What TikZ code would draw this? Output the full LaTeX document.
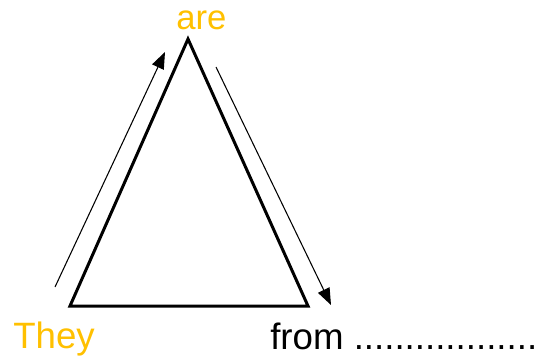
\documentclass[tikz,border=0pt]{standalone}
\usepackage{fontspec}
\setmainfont{Liberation Sans}
\usepackage{xcolor}
\usetikzlibrary{arrows.meta, positioning, calc}
\definecolor{gold}{HTML}{FFC000}
\tikzset{
  word/.style={
    anchor=base west, inner sep=0pt,
    font=\fontsize{#1}{30}\selectfont
  },
  word/.default=27.5,
  edge/.style={
    line width=2.25pt, line join=miter
  },
  arrow/.style={
    -{Triangle[length=12.5pt, width=9.5pt]},
    line width=0.8pt
  }
}
\begin{document}
\begin{tikzpicture}[x=0.75pt, y=-0.75pt]
\useasboundingbox (0,0) rectangle (551,358);

%------------------------------------------------------
% TRIANGLE CORNERS
%------------------------------------------------------

\coordinate (apex) at (188,39);
\coordinate (left) at (70,306);
\coordinate (right) at (308,306);

% arrow ends
\coordinate (upstart) at (55,287);
\coordinate (upend) at (165,52);
\coordinate (downstart) at (216,67);
\coordinate (downend) at (331,305);

%------------------------------------------------------
% WORDS
%------------------------------------------------------

\node[word=26, text=gold] (are) at (176,29) {are};
\node[word, text=gold] (they) at (13,348) {They};
\node[word] (from) at (270,349) {from ..................};

%------------------------------------------------------
% EDGES
%------------------------------------------------------

\draw[edge] (left) -- (apex) -- (right) -- cycle;
\draw[arrow] (upstart) -- (upend);
\draw[arrow] (downstart) -- (downend);

\end{tikzpicture}
\end{document}
